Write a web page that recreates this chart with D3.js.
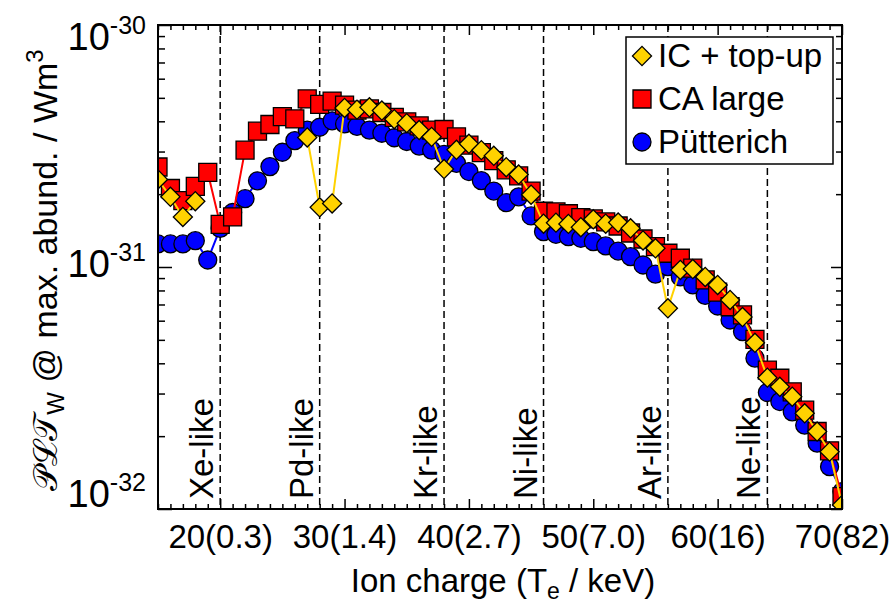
<!DOCTYPE html>
<html>
<head>
<meta charset="utf-8">
<script src="https://cdn.jsdelivr.net/npm/d3@7"></script>
<style>
  body { margin: 0; background: #fff; }
  svg text { font-family: "Liberation Sans", Arial, Helvetica, sans-serif; fill: #000; }
</style>
</head>
<body>
<div class="chart"></div>
<script>
// ion charge of W (x) and radiated power per ion, three atomic data sets
var charges = [15, 16, 17, 18, 19, 20, 21, 22, 23, 24, 25, 26, 27, 28, 29, 30, 31, 32, 33, 34, 35, 36, 37, 38, 39, 40, 41, 42,
  43, 44, 45, 46, 47, 48, 49, 50, 51, 52, 53, 54, 55, 56, 57, 58, 59, 60, 61, 62, 63, 64, 65, 66, 67, 68, 69, 70];

var icTopUp = [2.3e-31, 1.95e-31, 1.61e-31, 1.87e-31, null, null, null, null, null, null, null, null,
  3.43e-31, 1.765e-31, 1.83e-31, 4.54e-31, 4.47e-31, 4.57e-31, 4.43e-31, 4.08e-31, 3.93e-31, 3.68e-31, 3.45e-31, 2.54e-31,
  3.05e-31, 3.23e-31, 3.04e-31, 2.88e-31, 2.585e-31, 2.41e-31, 1.99e-31, 1.51e-31, 1.525e-31, 1.507e-31, 1.46e-31, 1.575e-31,
  1.51e-31, 1.527e-31, 1.445e-31, 1.287e-31, 1.195e-31, 6.75e-32, 9.72e-32, 9.81e-32, 9.1e-32, 8.43e-32, 7.31e-32, 6.21e-32,
  4.86e-32, 3.49e-32, 3.2e-32, 2.91e-32, 2.485e-32, 2.09e-32, 1.726e-32, 1.04e-32];

var caLarge = [2.59e-31, 2.11e-31, 1.88e-31, 2.155e-31, 2.46e-31, 1.50e-31, 1.61e-31, 3.04e-31, 3.64e-31, 3.88e-31, 4.18e-31, 4.09e-31,
  4.95e-31, 4.70e-31, 4.85e-31, 4.67e-31, 4.45e-31, 4.5e-31, 4.35e-31, 4.15e-31, 3.98e-31, 3.83e-31, 3.68e-31, 3.70e-31,
  3.45e-31, 3.19e-31, 2.97e-31, 2.75e-31, 2.52e-31, 2.38e-31, 2.06e-31, 1.70e-31, 1.69e-31, 1.66e-31, 1.60e-31, 1.58e-31,
  1.535e-31, 1.477e-31, 1.382e-31, 1.305e-31, 1.213e-31, 1.14e-31, 1.087e-31, 9.9e-32, 8.84e-32, 7.88e-32, 6.85e-32, 6.34e-32,
  5.02e-32, 3.75e-32, 3.47e-32, 3.05e-32, 2.56e-32, 2.09e-32, 1.74e-32, 1.125e-32];

var putterich = [1.245e-31, 1.245e-31, 1.245e-31, 1.285e-31, 1.069e-31, 1.445e-31, 1.68e-31, 1.915e-31, 2.27e-31, 2.60e-31, 2.98e-31, 3.33e-31,
  3.68e-31, 3.78e-31, 4.02e-31, 3.9e-31, 3.81e-31, 3.68e-31, 3.57e-31, 3.42e-31, 3.30e-31, 3.16e-31, 3.04e-31, 2.92e-31,
  2.68e-31, 2.48e-31, 2.275e-31, 2.06e-31, 1.845e-31, 1.95e-31, 1.625e-31, 1.40e-31, 1.365e-31, 1.334e-31, 1.314e-31, 1.272e-31,
  1.222e-31, 1.164e-31, 1.103e-31, 1.019e-31, 9.35e-32, 1.003e-31, 9.1e-32, 8.43e-32, 7.63e-32, 6.9e-32, 6.04e-32, 5.41e-32,
  4.2e-32, 3.03e-32, 2.78e-32, 2.52e-32, 2.22e-32, 1.87e-32, 1.496e-32, 1.18e-32];

var xTickValues = [20, 30, 40, 50, 60, 70];
var xTickLabels = ["20(0.3)", "30(1.4)", "40(2.7)", "50(7.0)", "60(16)", "70(82)"];
var yTickValues = [1e-32, 1e-31, 1e-30];
var yTickExponents = ["-32", "-31", "-30"];
var shellCharges = [20, 28, 38, 46, 56, 64];
var shellLabels = ["Xe-like", "Pd-like", "Kr-like", "Ni-like", "Ar-like", "Ne-like"];
var seriesNames = ["IC + top-up", "CA large", "Pütterich"];

var svgWidth = 894;
var svgHeight = 606;

var margin = {
  top: 25,
  right: 52,
  bottom: 97,
  left: 158
};

var width = svgWidth - margin.left - margin.right;
var height = svgHeight - margin.top - margin.bottom;

var svg = d3.select(".chart")
  .append("svg")
  .attr("width", svgWidth)
  .attr("height", svgHeight);

var chartGroup = svg.append("g")
  .attr("transform", `translate(${margin.left}, ${margin.top})`);

chartGroup.append("clipPath")
  .attr("id", "plot-clip")
  .append("rect")
  .attr("width", width)
  .attr("height", height);

// scales
var xScale = d3.scaleLinear().domain([15, 70]).range([0, width]);
var yScale = d3.scaleLog().domain([1e-32, 1e-30]).range([height, 0]);

// axes: ticks point inwards on all four sides
var xMinor = d3.range(15, 71).filter(d => d % 10 !== 0);
var yAll = yScale.ticks();
var yMinor = yAll.filter(d => Math.abs(Math.log10(d) - Math.round(Math.log10(d))) > 1e-6);

function cleanAxis(g) {
  g.select(".domain").remove();
  g.selectAll(".tick line").attr("stroke", "#000").attr("stroke-width", 1.5);
}

chartGroup.append("g")
  .attr("transform", `translate(0, ${height})`)
  .call(d3.axisBottom(xScale).tickValues(xMinor).tickSize(-5).tickFormat(""))
  .call(cleanAxis);

var bottomMajor = chartGroup.append("g")
  .attr("transform", `translate(0, ${height})`)
  .call(d3.axisBottom(xScale).tickValues(xTickValues).tickSize(-10).tickPadding(16)
    .tickFormat((d, i) => xTickLabels[i]))
  .call(cleanAxis);
bottomMajor.selectAll(".tick text")
  .attr("font-family", null)
  .style("font-size", "33px")
  .attr("fill", "#000");

chartGroup.append("g")
  .call(d3.axisTop(xScale).tickValues(xMinor).tickSize(-5).tickFormat(""))
  .call(cleanAxis);
chartGroup.append("g")
  .call(d3.axisTop(xScale).tickValues(xTickValues).tickSize(-10).tickFormat(""))
  .call(cleanAxis);

chartGroup.append("g")
  .call(d3.axisLeft(yScale).tickValues(yMinor).tickSize(-7).tickFormat(""))
  .call(cleanAxis);
chartGroup.append("g")
  .call(d3.axisLeft(yScale).tickValues(yTickValues).tickSize(-14).tickFormat(""))
  .call(cleanAxis);
chartGroup.append("g")
  .attr("transform", `translate(${width}, 0)`)
  .call(d3.axisRight(yScale).tickValues(yMinor).tickSize(-6).tickFormat(""))
  .call(cleanAxis);
chartGroup.append("g")
  .attr("transform", `translate(${width}, 0)`)
  .call(d3.axisRight(yScale).tickValues(yTickValues).tickSize(-11).tickFormat(""))
  .call(cleanAxis);

// y tick labels 10^n
var yLabels = chartGroup.selectAll(".ylab")
  .data(yTickValues)
  .enter()
  .append("text")
  .classed("ylab", true)
  .attr("x", -12)
  .attr("y", d => Math.min(Math.max(yScale(d) + 10, 25), height - 2))
  .attr("text-anchor", "end")
  .style("font-size", "38px");
yLabels.append("tspan").text("10");
yLabels.append("tspan")
  .attr("dy", -16)
  .style("font-size", "25px")
  .text((d, i) => yTickExponents[i]);

// isoelectronic sequence markers
chartGroup.selectAll(".shell-line")
  .data(shellCharges)
  .enter()
  .append("line")
  .classed("shell-line", true)
  .attr("x1", d => xScale(d))
  .attr("x2", d => xScale(d))
  .attr("y1", 0)
  .attr("y2", height)
  .attr("stroke", "#000")
  .attr("stroke-width", 1.5)
  .attr("stroke-dasharray", "7,4");

chartGroup.selectAll(".shell-label")
  .data(shellCharges)
  .enter()
  .append("text")
  .classed("shell-label", true)
  .attr("transform", d => `translate(${xScale(d) - 7}, ${height - 10}) rotate(-90)`)
  .style("font-size", "33px")
  .text((d, i) => shellLabels[i]);

// series
var series = [
  { values: putterich, color: "#0000ff", shape: "circle" },
  { values: caLarge, color: "#ff0000", shape: "square" },
  { values: icTopUp, color: "#ffd200", shape: "diamond" }
];

var symbolPath = {
  circle: d3.symbol().type(d3.symbolCircle).size(Math.PI * 9 * 9),
  square: d3.symbol().type(d3.symbolSquare).size(18 * 18),
  diamond: d3.symbol().type(d3.symbolSquare).size(13.5 * 13.5)
};

var plotArea = chartGroup.append("g").attr("clip-path", "url(#plot-clip)");

series.forEach(function(s) {
  var pts = charges.map((c, i) => ({ z: c, v: s.values[i] }));

  var line = d3.line()
    .defined(d => d.v !== null)
    .x(d => xScale(d.z))
    .y(d => yScale(d.v));

  plotArea.append("path")
    .datum(pts)
    .attr("d", line)
    .attr("fill", "none")
    .attr("stroke", s.color)
    .attr("stroke-width", 2);

  plotArea.selectAll(null)
    .data(pts.filter(d => d.v !== null))
    .enter()
    .append("path")
    .attr("d", symbolPath[s.shape])
    .attr("transform", d => `translate(${xScale(d.z)}, ${yScale(d.v)})` + (s.shape === "diamond" ? " rotate(45)" : ""))
    .attr("fill", s.color)
    .attr("stroke", "#000")
    .attr("stroke-width", 1.3);
});

// frame
chartGroup.append("rect")
  .attr("width", width)
  .attr("height", height)
  .attr("fill", "none")
  .attr("stroke", "#000")
  .attr("stroke-width", 2);

// legend
var legend = svg.append("g").attr("transform", "translate(626, 37)");
legend.append("rect")
  .attr("width", 207)
  .attr("height", 127)
  .attr("fill", "#fff")
  .attr("stroke", "#000")
  .attr("stroke-width", 1.5);

var legendSeries = [series[2], series[1], series[0]];
legendSeries.forEach(function(s, i) {
  var row = legend.append("g").attr("transform", `translate(0, ${19 + i * 43})`);
  row.append("path")
    .attr("d", symbolPath[s.shape])
    .attr("transform", "translate(16, 0)" + (s.shape === "diamond" ? " rotate(45)" : ""))
    .attr("fill", s.color)
    .attr("stroke", "#000")
    .attr("stroke-width", 1.3);
  row.append("text")
    .attr("x", 32)
    .attr("y", 11)
    .style("font-size", "33px")
    .text(seriesNames[i]);
});

// axis titles
var xTitle = svg.append("text")
  .attr("x", 503)
  .attr("y", 592)
  .attr("text-anchor", "middle")
  .style("font-size", "33px");
xTitle.append("tspan").text("Ion charge (T");
xTitle.append("tspan").attr("dy", 7).style("font-size", "23px").text("e");
xTitle.append("tspan").attr("dy", -7).text(" / keV)");

var yTitle = svg.append("text")
  .attr("transform", "translate(57, 270) rotate(-90)")
  .attr("text-anchor", "middle")
  .style("font-size", "34px");
yTitle.append("tspan").text("\u{1D4AB}\u2112\u{1D4AF}");
yTitle.append("tspan").attr("dy", 7).style("font-size", "24px").text("W");
yTitle.append("tspan").attr("dy", -7).text("  @ max. abund. / Wm");
yTitle.append("tspan").attr("dy", -14).style("font-size", "24px").text("3");
</script>
</body>
</html>
